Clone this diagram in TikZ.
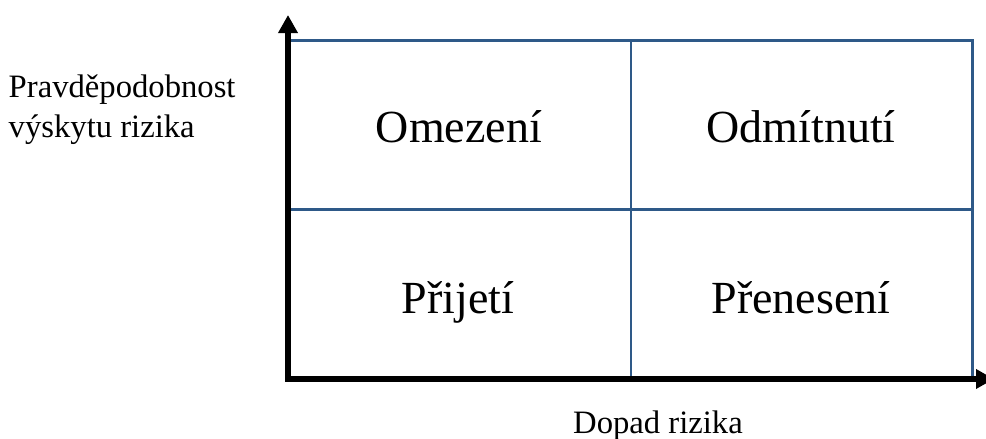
\documentclass[tikz,border=0pt]{standalone}
\usepackage{fontspec}
\setmainfont{Liberation Serif}
\usepackage{tikz}
\usetikzlibrary{arrows.meta}
\definecolor{gridblue}{RGB}{46,89,136}
\tikzset{
    cellline/.style={draw=gridblue,line width=2.1pt},
    axis/.style={line width=4.5pt,-{Triangle[length=13.5pt,width=14pt]}},
    celltext/.style={anchor=base,font=\fontsize{34.5}{40}\selectfont},
    axistext/.style={font=\fontsize{24.5}{30}\selectfont}
}

\begin{document}
\begin{tikzpicture}[x=0.75pt,y=-0.75pt]
\useasboundingbox (0,0) rectangle (986,439);
% quadrant grid
\draw[cellline] (289,40.3) rectangle (972.7,379);
\draw[cellline] (631,40.3)--(631,379);
\draw[cellline] (289,209.5)--(972.7,209.5);
% axes
\coordinate (origin) at (288,381);
\coordinate (ytop) at (288,15);
\coordinate (xend) at (994,379);
\draw[axis] (origin)--(ytop);
\draw[axis] ([xshift=-2.25pt]origin|-xend)--(xend);
% quadrant labels
\node[celltext] (omezeni) at (459,142) {Omezení};
\node[celltext] (odmitnuti) at (801,142) {Odmítnutí};
\node[celltext] (prijeti) at (458,313) {Přijetí};
\node[celltext] (preneseni) at (801,313) {Přenesení};
% axis labels
\node[axistext,anchor=base west] (ylabel) at (4,97) {Pravděpodobnost};
\node[axistext,anchor=base west] (ylabel2) at (4,137) {výskytu rizika};
\node[axistext,anchor=base] (xlabel) at (658,433) {Dopad rizika};
\end{tikzpicture}
\end{document}
